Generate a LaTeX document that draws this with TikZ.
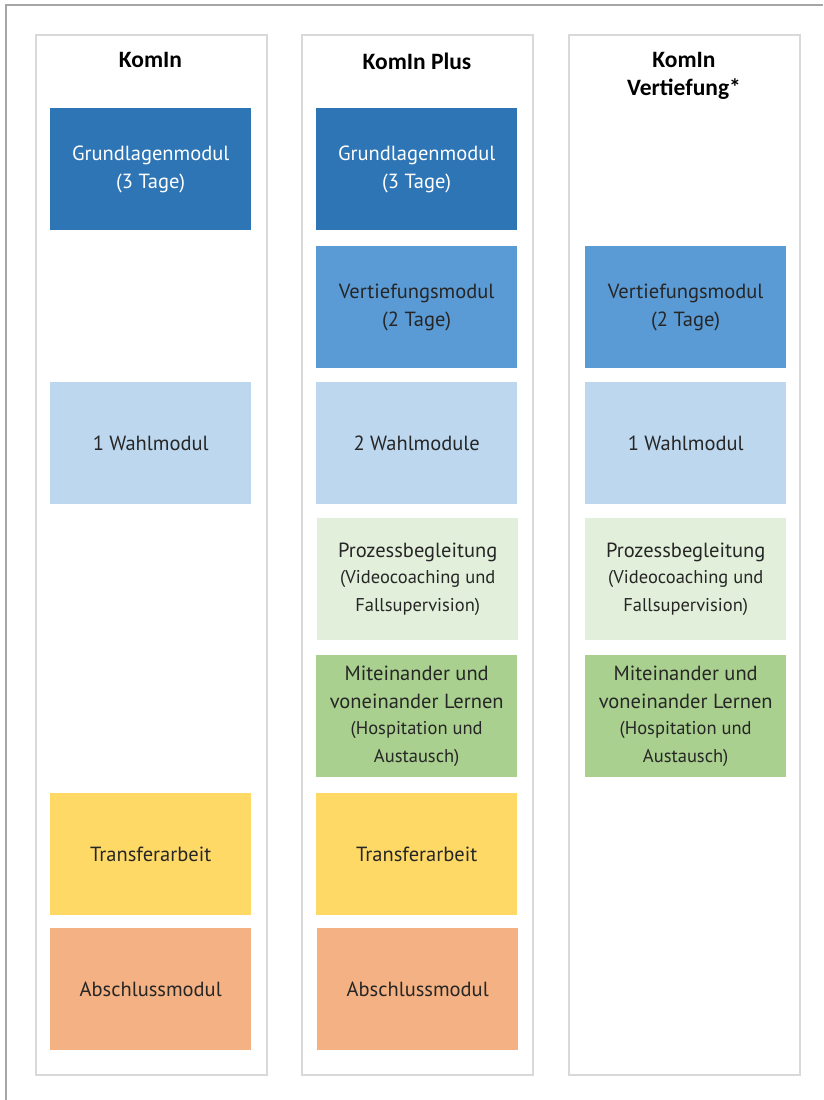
\documentclass[tikz,border=0pt]{standalone}
\usepackage{fontspec}
\setmainfont{PT Sans}
\newfontfamily\headfont{Carlito}
\definecolor{cGrund}{HTML}{2E75B6}
\definecolor{cVert}{HTML}{5B9BD5}
\definecolor{cWahl}{HTML}{BDD7EE}
\definecolor{cProz}{HTML}{E2EFDA}
\definecolor{cMit}{HTML}{A9D08E}
\definecolor{cTrans}{HTML}{FFD966}
\definecolor{cAbs}{HTML}{F4B183}
\definecolor{cFrame}{HTML}{A6A6A6}
\definecolor{cCol}{HTML}{D9D9D9}
\definecolor{cText}{HTML}{262626}
\newcommand{\smalltxt}{\fontsize{18.5}{25}\selectfont}
\tikzset{
  colbox/.style={draw=cCol, line width=2pt, fill=white, anchor=north west, minimum width=231pt, minimum height=1040pt, inner sep=0pt},
  modbox/.style={anchor=north west, minimum width=201pt, minimum height=122pt, inner sep=2pt, align=center, text=cText, font=\fontsize{20.5}{28}\selectfont},
  header/.style={font=\headfont\bfseries\fontsize{23.5}{28}\selectfont, align=center, text=black, anchor=north}
}
\begin{document}
\begin{tikzpicture}[x=1pt,y=-1pt]
\useasboundingbox (0,0) rectangle (823,1100);
\fill[white] (0,0) rectangle (823,1100);
\draw[cFrame, line width=2.2pt] (6,1100) -- (6,5) -- (823,5);
% columns
\node[colbox] (c1) at (35,34) {};
\node[colbox] (c2) at (301,34) {};
\node[colbox] (c3) at (568,34) {};
% headers
\node[header] (h1) at (150.5,49) {KomIn};
\node[header] (h2) at (417,49) {KomIn Plus};
\node[header] (h3) at (684,49) {KomIn\\Vertiefung*};
% column 1
\node[modbox, fill=cGrund, text=white] (g1) at (50,108) {Grundlagenmodul\\(3 Tage)};
\node[modbox, fill=cWahl] (w1) at (50,382) {1 Wahlmodul};
\node[modbox, fill=cTrans] (t1) at (50,793) {Transferarbeit};
\node[modbox, fill=cAbs] (a1) at (50,928) {Abschlussmodul};
% column 2
\node[modbox, fill=cGrund, text=white] (g2) at (316,108) {Grundlagenmodul\\(3 Tage)};
\node[modbox, fill=cVert] (v2) at (316,246) {Vertiefungsmodul\\(2 Tage)};
\node[modbox, fill=cWahl] (w2) at (316,382) {2 Wahlmodule};
\node[modbox, fill=cProz] (p2) at (317,518) {Prozessbegleitung\\[-2pt]{\smalltxt (Videocoaching und}\\{\smalltxt Fallsupervision)}};
\node[modbox, fill=cMit] (m2) at (316,655) {Miteinander und\\voneinander Lernen\\[-2pt]{\smalltxt (Hospitation und}\\{\smalltxt Austausch)}};
\node[modbox, fill=cTrans] (t2) at (316,793) {Transferarbeit};
\node[modbox, fill=cAbs] (a2) at (317,928) {Abschlussmodul};
% column 3
\node[modbox, fill=cVert] (v3) at (585,246) {Vertiefungsmodul\\(2 Tage)};
\node[modbox, fill=cWahl] (w3) at (585,382) {1 Wahlmodul};
\node[modbox, fill=cProz] (p3) at (585,518) {Prozessbegleitung\\[-2pt]{\smalltxt (Videocoaching und}\\{\smalltxt Fallsupervision)}};
\node[modbox, fill=cMit] (m3) at (585,655) {Miteinander und\\voneinander Lernen\\[-2pt]{\smalltxt (Hospitation und}\\{\smalltxt Austausch)}};
\end{tikzpicture}
\end{document}
